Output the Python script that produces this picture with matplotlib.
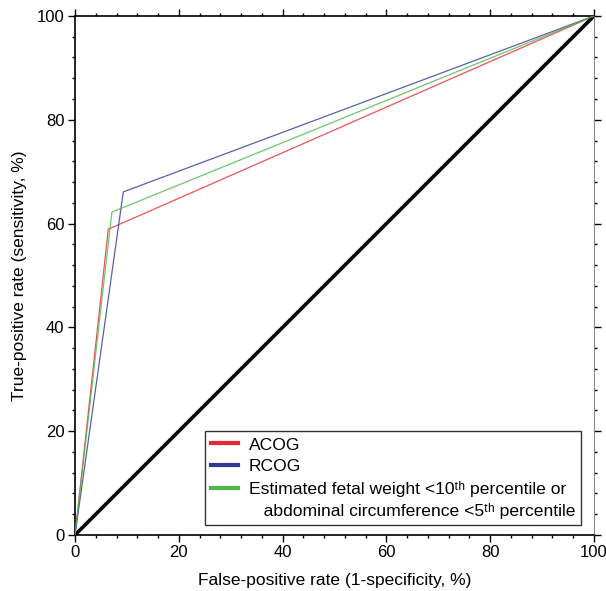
import matplotlib
matplotlib.use('Agg')
import matplotlib.pyplot as plt
from matplotlib.ticker import MultipleLocator
from matplotlib.lines import Line2D

plt.rcParams['font.family'] = ['Liberation Sans', 'DejaVu Sans']

# ROC points (false-positive rate, true-positive rate), in %
acog_fpr = [0, 6.4, 100]
acog_tpr = [0, 58.9, 100]
rcog_fpr = [0, 9.3, 100]
rcog_tpr = [0, 66.1, 100]
efw_fpr = [0, 7.1, 100]
efw_tpr = [0, 62.2, 100]
ref_fpr = [0, 100]
ref_tpr = [0, 100]

labels = ['ACOG', 'RCOG',
          'Estimated fetal weight <10\u1d57\u02b0 percentile or']
label_cont = '   abdominal circumference <5\u1d57\u02b0 percentile'
colors = ['#e52b2f', '#2e3a94', '#4cb848']

fig = plt.figure(figsize=(6.06, 5.91), dpi=100)
ax = fig.add_axes([0.1238, 0.0948, 0.8564, 0.8782])

ax.plot(ref_fpr, ref_tpr, color='black', lw=2.6, zorder=2)
for fpr, tpr, c in zip([acog_fpr, rcog_fpr, efw_fpr],
                       [acog_tpr, rcog_tpr, efw_tpr], colors):
    ax.plot(fpr, tpr, color=c, lw=0.9, alpha=0.8, zorder=3)

ax.set_xlim(0, 100)
ax.set_ylim(0, 100)
ax.xaxis.set_major_locator(MultipleLocator(20))
ax.yaxis.set_major_locator(MultipleLocator(20))
ax.xaxis.set_minor_locator(MultipleLocator(4))
ax.yaxis.set_minor_locator(MultipleLocator(4))
ax.tick_params(which='both', direction='out', top=True, right=True,
               labelsize=12, width=1)
ax.tick_params(which='major', length=5, pad=2.5)
ax.tick_params(which='minor', length=2.5)
ax.spines['right'].set_color('#888888')
for s in ['left', 'bottom', 'top']:
    ax.spines[s].set_linewidth(1.2)

ax.set_xlabel('False-positive rate (1-specificity, %)', fontsize=12.5, labelpad=9)
ax.set_ylabel('True-positive rate (sensitivity, %)', fontsize=12.5, labelpad=7)

handles = [Line2D([], [], color=c, lw=3) for c in colors]
handles.append(Line2D([], [], lw=0))
leg = ax.legend(handles, labels + [label_cont], loc='lower right',
                bbox_to_anchor=(0.9855, 0.0085), fontsize=12.6,
                frameon=True, fancybox=False, edgecolor='black',
                handlelength=1.55, handletextpad=0.6, labelspacing=0.37,
                borderpad=0.35, borderaxespad=0.3)
leg.get_frame().set_linewidth(1.0)

fig.savefig('out.png', dpi=100)
